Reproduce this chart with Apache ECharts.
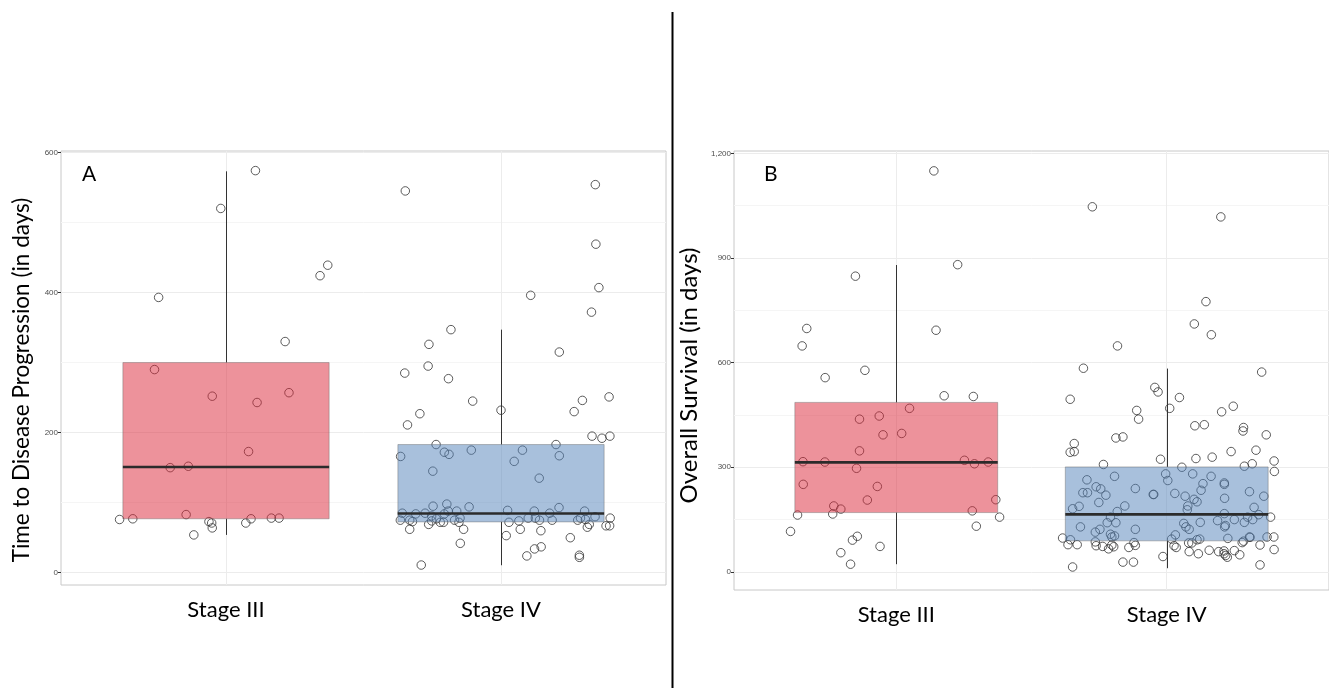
<!DOCTYPE html>
<html><head><meta charset="utf-8">
<script src="https://cdn.jsdelivr.net/npm/echarts@6/dist/echarts.min.js"></script>
<style>html,body{margin:0;padding:0;background:#fff}#c{width:1329px;height:688px}</style>
</head><body><div id="c"></div>
<script>
const categories = ['Stage III', 'Stage IV'];
const ttpTicks = [0, 200, 400, 600];
const ttpMinorTicks = [100, 300, 500];
const osTicks = [0, 300, 600, 900, 1200];
const osMinorTicks = [150, 450, 750, 1050];

// [category position, lower whisker, Q1, median, Q3, upper whisker]
const ttpBoxStats = [[1, 54, 77, 151, 300, 573], [2, 10.7, 72.6, 84.5, 183, 347]];
const osBoxStats = [[1, 22, 170, 314, 486, 880], [2, 10.5, 89, 165, 301, 583]];

// jittered points: [jittered category position, days]
const ttpStage3 = [[0.613,76],[0.661,77],[0.755,393],[0.740,290],[0.797,150],[0.863,152],[0.855,83],[0.883,54],[0.950,252],[0.938,73],[0.948,71],[0.950,64],[0.981,520],[1.107,574],[1.072,71],[1.082,173],[1.091,77],[1.113,243],[1.165,78],[1.193,78],[1.215,330],[1.229,257],[1.342,424],[1.370,439]];
const ttpStage4 = [[1.652,545],[2.343,554],[2.345,469],[2.356,407],[2.108,396],[2.329,372],[1.818,347],[1.738,326],[2.212,315],[1.735,295],[1.650,285],[1.809,277],[1.897,245],[2.296,246],[2.393,251],[2.000,232],[2.266,230],[1.705,227],[1.660,211],
[2.331,195],[2.367,192],[2.396,195],
[1.635,166],[1.764,183],[1.794,172],[1.811,169],[1.892,175],[1.752,145],[2.078,175],[2.200,183],[2.212,167],[2.048,159],[2.139,135],
[1.753,95],[1.803,98],[1.884,94],[2.211,93],[2.024,89],
[1.641,85],[1.690,84],[1.724,85],[1.748,81],[1.794,84],[1.808,88],[1.839,88],[2.121,88],[2.177,85],[2.304,88],[2.342,80],
[1.634,75],[1.668,75],[1.678,73],[1.737,69],[1.748,74],[1.765,77],[1.779,72],[1.791,72],[1.831,75],[1.847,72],[1.851,78],[2.029,72],[2.065,74],[2.099,78],[2.125,78],[2.140,75],[2.186,75],[2.279,75],[2.289,78],[2.307,76],[2.321,69],[2.314,65],[2.382,67],[2.395,67],[2.397,78],
[1.668,62],[1.864,62],[2.070,62],[2.145,60],
[1.852,42],[2.019,53],[2.252,50],[2.146,37],[2.122,34],[2.094,24],[2.285,25],[2.285,22],[1.710,11]];
const osStage3 = [[1.139,1150],[0.849,848],[1.227,881],[0.669,698],[0.652,648],[1.147,693],[0.737,557],[0.884,578],[1.177,505],[1.285,503],[1.049,469],[0.864,438],[0.937,447],[0.951,393],[1.020,397],[0.864,347],[0.655,316],[0.736,315],[1.252,320],[1.289,310],[1.340,315],[0.853,297],[0.656,251],[0.930,245],[0.893,206],[1.368,207],[0.769,189],[0.795,180],[0.765,166],[1.281,175],[0.635,163],[1.382,157],[1.296,131],[0.609,116],[0.856,102],[0.838,91],[0.940,73],[0.795,55],[0.831,22]];
const osStage4 = [[1.725,1047],[2.200,1018],[2.145,775],[2.102,711],[2.165,680],[1.818,648],[1.692,584],[2.351,573],[1.956,529],[1.968,516],[1.643,495],[2.047,500],[2.011,469],[2.203,459],[2.246,475],[1.889,463],[1.896,438],[2.104,419],[2.139,422],[2.284,414],[2.282,404],[2.368,393],[1.812,384],[1.838,387],[1.658,368],[1.643,343],[1.658,345],[2.238,345],[2.330,349],[2.168,329],[2.108,325],[1.977,323],[1.766,308],[2.397,318],[2.316,310],[2.287,303],[2.056,300],[2.398,288],
[1.996,281],[2.004,262],[2.096,281],[2.164,274],[2.134,253],[2.213,251],[2.213,255],[2.127,234],[2.306,230],[2.359,217],[2.214,211],[2.030,225],[2.068,217],[2.101,208],[2.112,201],[2.078,189],[2.076,178],[2.323,185],[2.340,164],[2.299,157],[2.318,150],[2.287,142],[2.384,157],[2.250,150],[2.188,147],[2.213,167],[2.124,142],[2.063,139],[2.071,129],[2.083,122],[2.214,129],[2.217,133],[2.226,96],[2.032,106],[2.018,94],[2.306,100],[2.308,99],[2.371,100],[2.396,100],[2.397,64],[2.345,77],[2.279,84],[2.284,88],[2.270,49],[2.250,61],[2.212,60],[2.212,52],[2.218,47],[2.224,42],[2.192,58],[2.157,62],[2.117,52],[2.083,58],[2.122,94],[2.112,92],[2.093,83],[2.081,83],[2.027,75],[2.035,70],[1.986,44],[1.877,28],[1.838,28],[1.652,14],[2.345,20],
[1.705,264],[1.739,244],[1.756,238],[1.775,220],[1.690,227],[1.707,227],[1.807,274],[1.884,239],[1.950,222],[1.952,222],[1.749,199],[1.676,188],[1.652,181],[1.817,173],[1.845,189],[1.792,157],[1.780,141],[1.812,141],[1.681,129],[1.884,122],[1.736,114],[1.753,122],[1.792,108],[1.807,103],[1.797,100],[1.615,97],[1.644,92],[1.635,78],[1.669,78],[1.736,86],[1.739,75],[1.763,73],[1.785,66],[1.797,77],[1.804,72],[1.860,70],[1.879,84],[1.884,76]];

const FILLS = ['rgba(219,37,55,0.5)', 'rgba(81,129,185,0.5)'];
const fmtComma = v => String(v).replace(/\B(?=(\d{3})+(?!\d))/g, ',');

function renderBox(params, api) {
  const x = api.value(0), hw = 0.375;
  const lo = api.coord([x, api.value(1)]);
  const q1 = api.coord([x - hw, api.value(2)]);
  const med1 = api.coord([x - hw, api.value(3)]);
  const med2 = api.coord([x + hw, api.value(3)]);
  const q3 = api.coord([x + hw, api.value(4)]);
  const hi = api.coord([x, api.value(5)]);
  const cx = Math.round(lo[0]) + 0.5;
  return {
    type: 'group',
    children: [
      {type: 'line', shape: {x1: cx, y1: lo[1], x2: cx, y2: q1[1]}, style: {stroke: '#333', lineWidth: 1}},
      {type: 'line', shape: {x1: cx, y1: q3[1], x2: cx, y2: hi[1]}, style: {stroke: '#333', lineWidth: 1}},
      {type: 'rect', shape: {x: q1[0], y: q3[1], width: q3[0] - q1[0], height: q1[1] - q3[1]},
        style: {fill: FILLS[params.dataIndex], stroke: 'rgba(110,110,110,0.45)', lineWidth: 1}},
      {type: 'line', shape: {x1: med1[0], y1: med1[1], x2: med2[0], y2: med2[1]}, style: {stroke: '#2b2b2b', lineWidth: 2.6}}
    ]
  };
}

function gridLines(major, minor) {
  const d = [];
  major.forEach(v => d.push({yAxis: v, lineStyle: {color: '#ececec', width: 1}}));
  minor.forEach(v => d.push({yAxis: v, lineStyle: {color: '#f5f5f5', width: 1}}));
  [1, 2].forEach(v => d.push({xAxis: v, lineStyle: {color: '#ececec', width: 1}}));
  return {silent: true, symbol: 'none', z: 1, label: {show: false}, lineStyle: {type: 'solid'}, data: d, animation: false};
}

function pointSeries(idx, data, mark) {
  const s = {
    type: 'scatter', xAxisIndex: idx, yAxisIndex: idx, data: data, z: 2,
    symbol: 'circle', symbolSize: 8.5,
    itemStyle: {color: 'rgba(0,0,0,0)', borderColor: '#333', borderWidth: 1}
  };
  if (mark) s.markLine = mark;
  return s;
}

function xAxisFor(idx) {
  return {
    gridIndex: idx, type: 'value', min: 0.4, max: 2.6,
    axisLine: {show: false}, splitLine: {show: false},
    axisTick: {show: true, length: 3, customValues: [1, 2], lineStyle: {color: '#333'}},
    axisLabel: {customValues: [1, 2], formatter: v => categories[Math.round(v) - 1], fontSize: 22,
      fontFamily: 'Lato', color: '#000', margin: 14}
  };
}

function yAxisFor(idx, min, max, ticks, name, gap, fmt, fs, shift) {
  return {
    gridIndex: idx, type: 'value', min: min, max: max,
    axisLine: {show: false}, splitLine: {show: false},
    axisTick: {show: true, length: 3, customValues: ticks, lineStyle: {color: '#333'}},
    axisLabel: {customValues: ticks, fontSize: 8, color: '#4d4d4d', margin: 3, fontFamily: 'Liberation Sans', formatter: fmt},
    name: name, nameLocation: 'middle', nameGap: gap,
    nameTextStyle: {fontSize: fs, fontFamily: 'Lato', color: '#000', padding: [0, shift, 0, 0]}
  };
}

const chart = echarts.init(document.getElementById('c'), null, {renderer: 'canvas'});
chart.setOption({
  animation: false,
  backgroundColor: '#fff',
  title: [
    {text: 'A', left: 77, top: 159, textStyle: {fontSize: 21, fontWeight: 'normal', fontFamily: 'Lato', color: '#000'}},
    {text: 'B', left: 759, top: 159, textStyle: {fontSize: 21, fontWeight: 'normal', fontFamily: 'Lato', color: '#000'}}
  ],
  grid: [
    {left: 61, top: 151, width: 605, height: 434, show: true, borderColor: '#c8c8c8', borderWidth: 1, backgroundColor: 'transparent'},
    {left: 734, top: 151, width: 605, height: 439, show: true, borderColor: '#c8c8c8', borderWidth: 1, backgroundColor: 'transparent'}
  ],
  xAxis: [xAxisFor(0), xAxisFor(1)],
  yAxis: [
    yAxisFor(0, -17.5, 602, ttpTicks, 'Time to Disease Progression (in days)', 28, v => String(v), 22.5, 24),
    yAxisFor(1, -52, 1207, osTicks, 'Overall Survival (in days)', 33, fmtComma, 24, 10)
  ],
  graphic: [
    {type: 'line', shape: {x1: 672.5, y1: 12, x2: 672.5, y2: 688}, style: {stroke: '#000', lineWidth: 2}, z: 10}
  ],
  series: [
    pointSeries(0, ttpStage3, gridLines(ttpTicks, ttpMinorTicks)),
    pointSeries(0, ttpStage4),
    {type: 'custom', xAxisIndex: 0, yAxisIndex: 0, data: ttpBoxStats, renderItem: renderBox, z: 3, silent: true},
    pointSeries(1, osStage3, gridLines(osTicks, osMinorTicks)),
    pointSeries(1, osStage4),
    {type: 'custom', xAxisIndex: 1, yAxisIndex: 1, data: osBoxStats, renderItem: renderBox, z: 3, silent: true}
  ]
});
</script></body></html>
